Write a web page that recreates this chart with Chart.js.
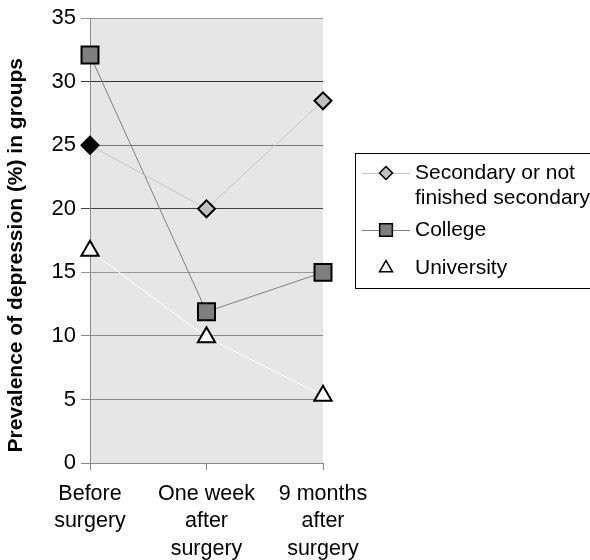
<!DOCTYPE html>
<html>
<head>
<meta charset="utf-8">
<script src="https://cdn.jsdelivr.net/npm/chart.js@4/dist/chart.umd.min.js"></script>
<style>
  html,body{margin:0;padding:0;background:#fff;}
  #wrap{width:590px;height:560px;position:relative;}
</style>
</head>
<body>
<div id="wrap"><canvas id="c" width="590" height="560"></canvas></div>
<script>
const categories = [["Before","surgery"],["One week","after","surgery"],["9 months","after","surgery"]];
const seriesNames = ["Secondary or not finished secondary","College","University"];
const legendLines = [["Secondary or not","finished secondary"],["College"],["University"]];
const secondary = [25, 20, 28.5];
const college = [32.1, 11.9, 15];
const university = [16.7, 9.9, 5.3];
const yTitle = "Prevalence of depression (%) in groups";

const FONT = "'Liberation Sans', Arial, sans-serif";

const bgPlugin = {
  id: 'plotBg',
  beforeDraw(chart) {
    const {ctx, chartArea: a} = chart;
    ctx.save();
    ctx.fillStyle = '#e6e6e6';
    ctx.fillRect(a.left, a.top, a.right - a.left, a.bottom - a.top);
    ctx.restore();
  }
};

const legendPlugin = {
  id: 'boxLegend',
  afterDraw(chart) {
    const ctx = chart.ctx;
    const box = {x: 355.5, y: 153.5, w: 250, h: 135};
    const rows = [173, 230, 268];
    const lineGap = 25;
    ctx.save();
    ctx.fillStyle = '#fff';
    ctx.fillRect(box.x, box.y, box.w, box.h);
    ctx.strokeStyle = '#000';
    ctx.lineWidth = 1;
    ctx.strokeRect(box.x, box.y, box.w, box.h);
    chart.data.datasets.forEach((ds, i) => {
      const y = rows[i];
      ctx.strokeStyle = ds.legendLineColor;
      ctx.lineWidth = 1;
      ctx.beginPath();
      ctx.moveTo(362, y + 0.5);
      ctx.lineTo(410, y + 0.5);
      ctx.stroke();
      const fill = Array.isArray(ds.pointBackgroundColor) ? ds.pointBackgroundColor[ds.pointBackgroundColor.length - 1] : ds.pointBackgroundColor;
      ctx.fillStyle = fill; ctx.strokeStyle = '#000'; ctx.lineWidth = 1.5;
      Chart.helpers.drawPoint(ctx, {pointStyle: ds.pointStyle, radius: ds.legendRadius, rotation: 0, borderWidth: 1.5}, 386, y);
      ctx.fillStyle = '#000';
      ctx.font = '21px ' + FONT;
      ctx.textBaseline = 'middle';
      ctx.textAlign = 'left';
      legendLines[i].forEach((t, k) => ctx.fillText(t, 415, y + k * lineGap));
    });
    ctx.restore();
  }
};

const gridColors = {5:'#888', 10:'#888', 15:'#999', 20:'#444', 25:'#777', 30:'#333', 35:'#999'};

new Chart(document.getElementById('c'), {
  type: 'line',
  data: {
    labels: categories,
    datasets: [
      {
        label: seriesNames[0], data: secondary,
        borderColor: '#c8c8c8', borderWidth: 1, legendLineColor: '#c8c8c8',
        pointStyle: 'rectRot', pointRadius: 8.5, legendRadius: 6.5,
        pointBackgroundColor: ['#000', '#c0c0c0', '#c0c0c0'],
        pointBorderColor: '#000', pointBorderWidth: 2
      },
      {
        label: seriesNames[1], data: college,
        borderColor: '#808080', borderWidth: 1, legendLineColor: '#808080',
        pointStyle: 'rect', pointRadius: 12, legendRadius: 9,
        pointBackgroundColor: '#7f7f7f',
        pointBorderColor: '#000', pointBorderWidth: 2
      },
      {
        label: seriesNames[2], data: university,
        borderColor: '#ffffff', borderWidth: 1, legendLineColor: '#ffffff',
        pointStyle: 'triangle', pointRadius: 10, legendRadius: 7.5,
        pointBackgroundColor: '#ffffff',
        pointBorderColor: '#000', pointBorderWidth: 2
      }
    ]
  },
  options: {
    responsive: false,
    animation: false,
    layout: {padding: {top: 16, right: 267, left: 0, bottom: 0}},
    plugins: {legend: {display: false}, tooltip: {enabled: false}},
    elements: {line: {tension: 0}},
    scales: {
      x: {
        type: 'category',
        offset: false,
        grid: {display: true, drawOnChartArea: false, drawTicks: true, tickLength: 7, color: '#888'},
        border: {display: true, color: '#888', width: 1},
        ticks: {color: '#000', font: {size: 21.5, family: FONT, lineHeight: 1.28}, padding: 10, maxRotation: 0, autoSkip: false},
        afterFit(s) { s.height = 97; }
      },
      y: {
        min: 0, max: 35,
        grid: {
          color: (c) => c.tick && gridColors[c.tick.value] ? gridColors[c.tick.value] : '#888',
          tickLength: 9, drawTicks: true
        },
        border: {display: true, color: '#888', width: 1},
        ticks: {stepSize: 5, color: '#000', font: {size: 22, family: FONT}, padding: 5},
        title: {display: true, text: yTitle + '     ', color: '#000', font: {size: 21, weight: 'bold', family: FONT}, padding: {top: 4, bottom: 0}},
        afterFit(s) { s.width = 90; }
      }
    }
  },
  plugins: [bgPlugin, legendPlugin]
});
</script>
</body>
</html>
